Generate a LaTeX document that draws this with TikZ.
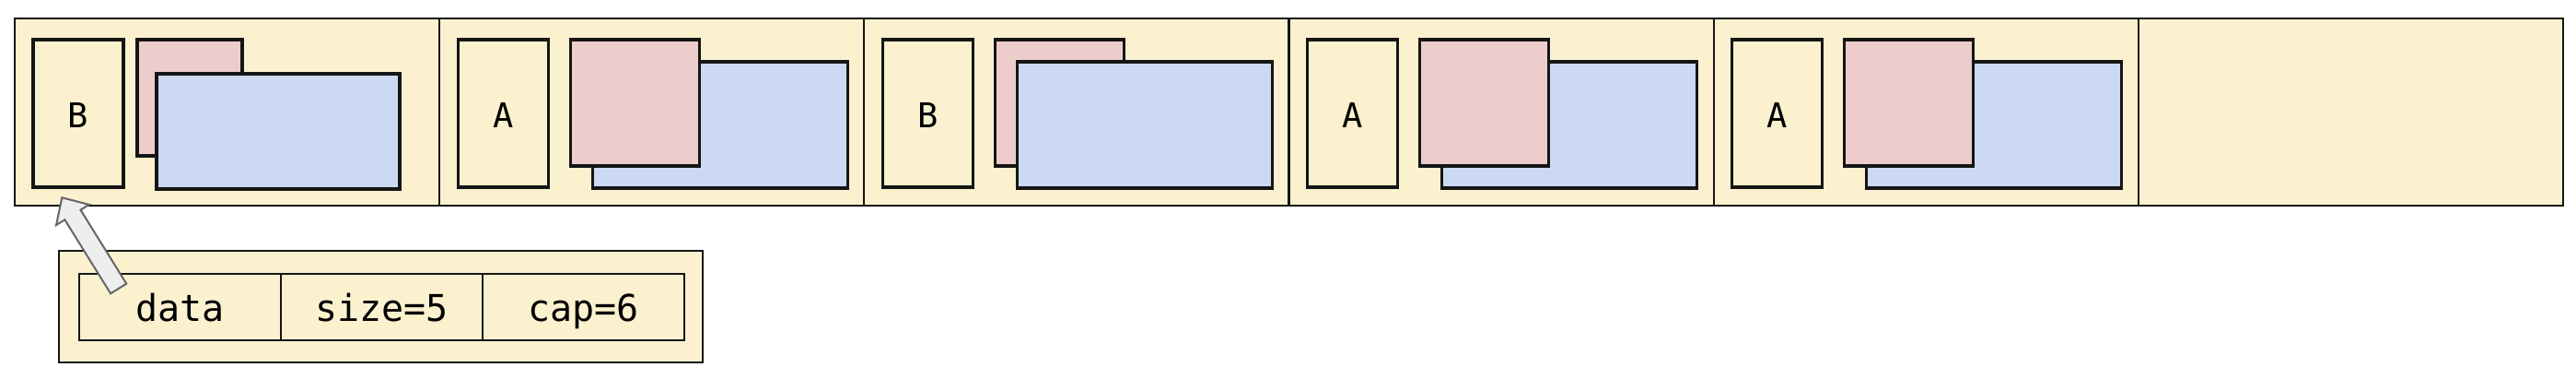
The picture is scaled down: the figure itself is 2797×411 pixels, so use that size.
\documentclass[tikz,border=0pt]{standalone}
\usepackage{fontspec}
\setmonofont{DejaVu Sans Mono}
\usetikzlibrary{calc}
\definecolor{cy}{HTML}{FCF1CF}
\definecolor{cpink}{HTML}{EDCDCC}
\definecolor{cblue}{HTML}{CBD9F3}
\definecolor{edge}{HTML}{151515}
\definecolor{agray}{HTML}{666666}
\definecolor{afill}{HTML}{EEEEEE}
\begin{document}
\begin{tikzpicture}[x=1pt,y=-1pt,
  cellbox/.style={draw=edge,fill=cy,line width=2.2pt,minimum width=461.17pt,minimum height=203pt,inner sep=0pt,outer sep=0pt,anchor=north west},
  letbox/.style={draw=edge,fill=cy,line width=3.3pt,minimum width=98pt,minimum height=160pt,inner sep=0pt,outer sep=0pt,anchor=north west,
    font=\ttfamily\fontsize{37}{40}\selectfont,text height=30.6pt,text depth=0pt},
  pinkbox/.style={draw=edge,fill=cpink,line width=3.3pt,inner sep=0pt,outer sep=0pt,anchor=north west},
  bluebox/.style={draw=edge,fill=cblue,line width=3.3pt,inner sep=0pt,outer sep=0pt,anchor=north west},
  vecbox/.style={draw=edge,fill=cy,line width=2.8pt,inner sep=0pt,outer sep=0pt,anchor=north west},
  fieldbox/.style={draw=edge,fill=cy,line width=2.8pt,minimum width=219pt,minimum height=72pt,inner sep=0pt,outer sep=0pt,anchor=north west,
    font=\ttfamily\fontsize{40}{44}\selectfont,text height=32pt,text depth=0pt},
  fatarrow/.style={draw=agray,fill=afill,line width=2pt,line join=miter}]
\useasboundingbox (0,0) rectangle (2797,411);
% strip of cells
\node[cellbox] (cell1) at (16,20) {};
\node[cellbox] (cell2) at (477.17,20) {};
\node[cellbox] (cell3) at (938.34,20) {};
\node[cellbox] (cell4) at (1399.51,20) {};
\node[cellbox] (cell5) at (1860.68,20) {};
\node[cellbox] (cell6) at (2321.85,20) {};
\draw[edge,line width=2.8pt] (cell1.north west) rectangle (cell6.south east);
% cell 1
\node[letbox] (let1) at ($(cell1.north west)+(20,23)$) {B};
\node[pinkbox,minimum width=114pt,minimum height=126pt] (pink1) at ($(cell1.north west)+(133,23)$) {};
\node[bluebox,minimum width=264pt,minimum height=125pt] (blue1) at ($(cell1.north west)+(154,60)$) {};
% cell 2
\node[letbox] (let2) at ($(cell2.north west)+(20,23)$) {A};
\node[bluebox,minimum width=277pt,minimum height=137pt] (blue2) at ($(cell2.north west)+(166,47)$) {};
\node[pinkbox,minimum width=140pt,minimum height=137pt] (pink2) at ($(cell2.north west)+(142,23)$) {};
% cell 3
\node[letbox] (let3) at ($(cell3.north west)+(20,23)$) {B};
\node[pinkbox,minimum width=140pt,minimum height=137pt] (pink3) at ($(cell3.north west)+(142,23)$) {};
\node[bluebox,minimum width=277pt,minimum height=137pt] (blue3) at ($(cell3.north west)+(166,47)$) {};
% cell 4
\node[letbox] (let4) at ($(cell4.north west)+(20,23)$) {A};
\node[bluebox,minimum width=277pt,minimum height=137pt] (blue4) at ($(cell4.north west)+(166,47)$) {};
\node[pinkbox,minimum width=140pt,minimum height=137pt] (pink4) at ($(cell4.north west)+(142,23)$) {};
% cell 5
\node[letbox] (let5) at ($(cell5.north west)+(20,23)$) {A};
\node[bluebox,minimum width=277pt,minimum height=137pt] (blue5) at ($(cell5.north west)+(166,47)$) {};
\node[pinkbox,minimum width=140pt,minimum height=137pt] (pink5) at ($(cell5.north west)+(142,23)$) {};
% vector struct
\node[vecbox,minimum width=699pt,minimum height=121pt] (vec) at (64,272) {};
\node[fieldbox] (f1) at (86,297) {data};
\node[fieldbox] (f2) at (305,297) {size=5};
\node[fieldbox] (f3) at (524,297) {cap=6};
% pointer arrow
\coordinate (tail) at ($(f1.north west)+(42.7,16)$);
\coordinate (tip) at ($(let1.south)+(-17.7,11.3)$);
\coordinate (hb) at ($(tip)!22pt!(tail)$);
\draw[fatarrow] ($(tail)!10.1pt!90:(tip)$) -- ($(hb)!10.1pt!90:(tip)$) -- ($(hb)!21pt!90:(tip)$) -- (tip)
  -- ($(hb)!21pt!-90:(tip)$) -- ($(hb)!10.1pt!-90:(tip)$) -- ($(tail)!10.1pt!-90:(tip)$) -- cycle;
\end{tikzpicture}
\end{document}
